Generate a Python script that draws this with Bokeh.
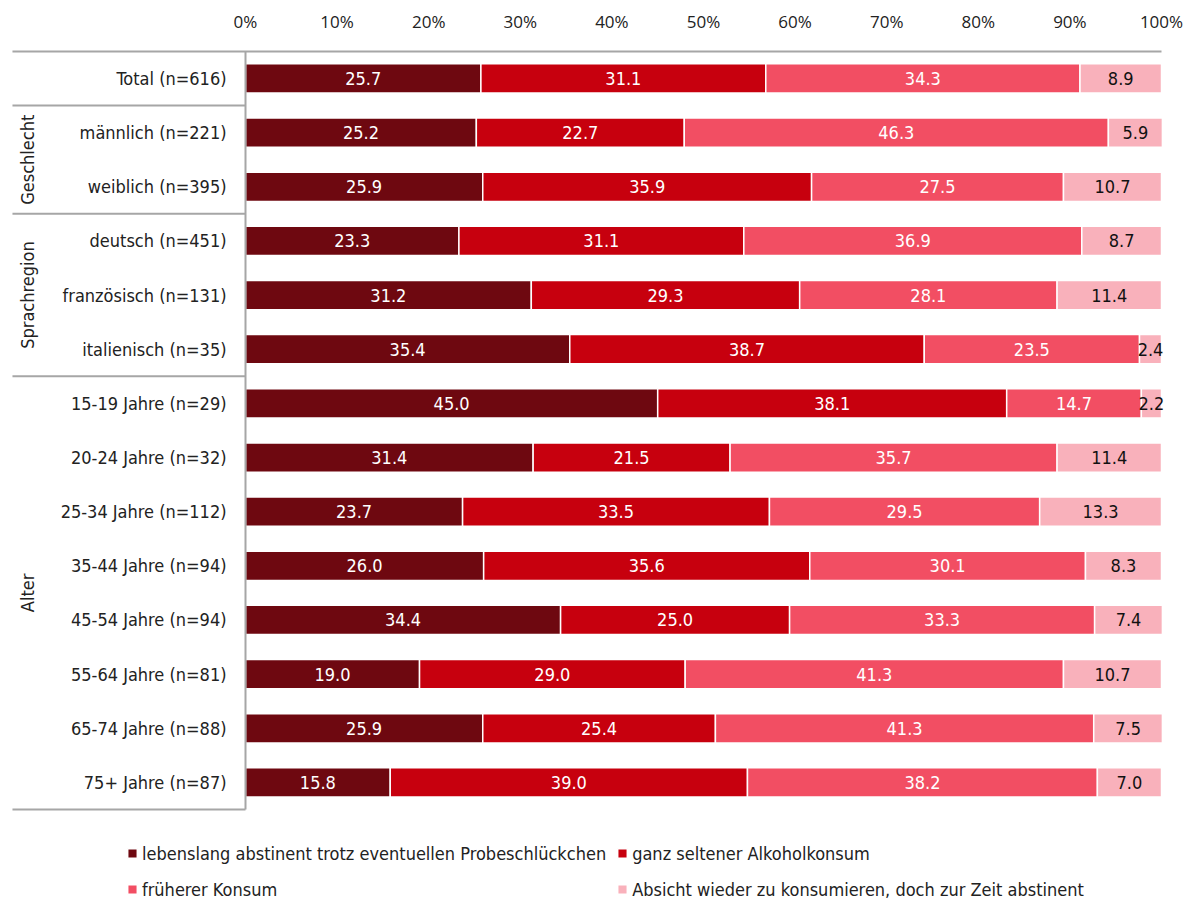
import numpy as np
from bokeh.plotting import figure
from bokeh.models import ColumnDataSource, Range1d, FixedTicker, Legend, LegendItem
from bokeh.core.properties import value
from bokeh.embed import file_html
from bokeh.resources import INLINE

categories = ["Total (n=616)", "männlich (n=221)", "weiblich (n=395)",
              "deutsch (n=451)", "französisch (n=131)", "italienisch (n=35)",
              "15-19 Jahre (n=29)", "20-24 Jahre (n=32)", "25-34 Jahre (n=112)",
              "35-44 Jahre (n=94)", "45-54 Jahre (n=94)", "55-64 Jahre (n=81)",
              "65-74 Jahre (n=88)", "75+ Jahre (n=87)"]
groups = ["", "Geschlecht", "Sprachregion", "Alter"]
group_sizes = [1, 2, 3, 8]

series_names = ["lebenslang abstinent trotz eventuellen Probeschlückchen",
                "ganz seltener Alkoholkonsum",
                "früherer Konsum",
                "Absicht wieder zu konsumieren, doch zur Zeit abstinent"]
lebenslang = [25.7, 25.2, 25.9, 23.3, 31.2, 35.4, 45.0, 31.4, 23.7, 26.0, 34.4, 19.0, 25.9, 15.8]
selten = [31.1, 22.7, 35.9, 31.1, 29.3, 38.7, 38.1, 21.5, 33.5, 35.6, 25.0, 29.0, 25.4, 39.0]
frueher = [34.3, 46.3, 27.5, 36.9, 28.1, 23.5, 14.7, 35.7, 29.5, 30.1, 33.3, 41.3, 41.3, 38.2]
absicht = [8.9, 5.9, 10.7, 8.7, 11.4, 2.4, 2.2, 11.4, 13.3, 8.3, 7.4, 10.7, 7.5, 7.0]
tick_values = [0, 10, 20, 30, 40, 50, 60, 70, 80, 90, 100]
tick_labels = {v: f"{v}%" for v in tick_values}

colors = ["#6E0810", "#C7000E", "#F24E63", "#F9B1BB"]
text_colors = ["white", "white", "white", "#111111"]

NARROW_NAME = "DejaVu Sans Condensed"
NARROW = value(NARROW_NAME)
FS = "18px"

p = figure(width=1190, height=902, output_backend="svg", toolbar_location=None,
           x_axis_location="above", y_axis_location=None,
           x_range=Range1d(-25.655, 102.62), y_range=Range1d(15.217, -0.609),
           min_border_left=10, min_border_right=5, min_border_top=45, min_border_bottom=0)
p.outline_line_color = None
p.grid.visible = False
p.background_fill_color = "white"

ax = p.xaxis[0]
ax.ticker = FixedTicker(ticks=tick_values)
ax.major_label_overrides = tick_labels
ax.axis_line_color = None
ax.major_tick_line_color = None
ax.minor_tick_line_color = None
ax.major_label_standoff = 7
ax.major_label_text_font = "Open Sans"
ax.major_label_text_font_size = "17px"
ax.major_label_text_color = "#222222"

ys = np.arange(len(categories))
data = np.array([lebenslang, selten, frueher, absicht])
cum = np.cumsum(data, axis=0)
lefts = np.vstack([np.zeros(len(categories)), cum[:-1]])

items = []
for i in range(4):
    src = ColumnDataSource(dict(y=ys, left=lefts[i], right=cum[i],
                                mid=(lefts[i] + cum[i]) / 2,
                                lab=[f"{v:.1f}" for v in data[i]]))
    r = p.hbar(y="y", left="left", right="right", height=0.54, source=src,
               fill_color=colors[i], line_color="white", line_width=1.5)
    items.append(LegendItem(label=series_names[i], renderers=[r]))
    p.text(x="mid", y="y", text="lab", source=src, text_align="center",
           text_baseline="middle", text_color=text_colors[i],
           text_font=NARROW, text_font_size=FS)

# category labels
p.text(x=[-2.07] * len(categories), y=ys, text=categories, text_align="right",
       text_baseline="middle", text_color="#222222", text_font=NARROW, text_font_size=FS)

# separators
bounds = np.cumsum(group_sizes) - 0.5
p.segment(x0=[-25.44] * len(bounds), x1=[0] * len(bounds), y0=bounds, y1=bounds,
          line_color="#A6A6A6", line_width=2)
p.segment(x0=[-25.44], x1=[100], y0=[-0.5], y1=[-0.5], line_color="#A6A6A6", line_width=2)
p.segment(x0=[0], x1=[0], y0=[-0.5], y1=[len(categories) - 0.5], line_color="#A6A6A6", line_width=2)

# group labels
starts = np.concatenate([[0], np.cumsum(group_sizes)[:-1]]) - 0.5
centers = (starts + bounds) / 2
gl = [(g, c) for g, c in zip(groups, centers) if g]
p.text(x=[-23.8] * len(gl), y=[c for _, c in gl], text=[g for g, _ in gl],
       angle=np.pi / 2, text_align="center", text_baseline="middle",
       text_color="#222222", text_font=NARROW, text_font_size=FS)

# legend filled column-wise -> order so rows read left-to-right
legend_items = [items[0], items[2], items[1], items[3]]
legend = Legend(items=legend_items, location=(116, 0), ncols=2, padding=0, margin=0,
                spacing=10, label_standoff=4, glyph_width=12, glyph_height=12,
                label_height=26, border_line_color=None, background_fill_alpha=0,
                label_text_font=NARROW_NAME, label_text_font_size="18px",
                label_text_color="#222222")
p.add_layout(legend, "center")

open("out.html", "w").write(file_html(p, INLINE))
